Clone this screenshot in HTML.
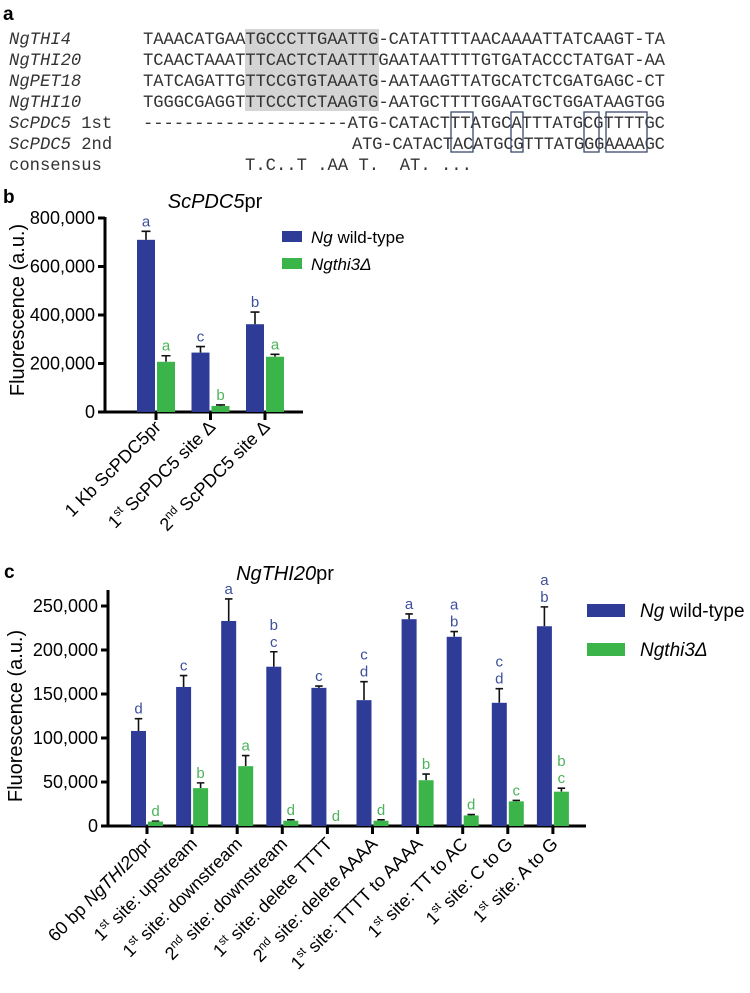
<!DOCTYPE html>
<html><head><meta charset="utf-8"><style>
html,body{margin:0;padding:0;background:#fff;}
svg{display:block;font-family:"Liberation Sans",sans-serif;}
.mono{font-family:"Liberation Mono",monospace;font-size:17.2px;fill:#333;white-space:pre;}
</style></head><body>
<svg id="fig" width="750" height="993" viewBox="0 0 750 993" xmlns="http://www.w3.org/2000/svg">
<!-- Panel a -->
<g>
<text x="3" y="20" font-size="19" font-weight="bold">a</text>
<rect x="245" y="29" width="134" height="82" fill="#d4d4d4"/>
<g>
<text class="mono" x="9" y="44" font-style="italic">NgTHI4</text>
<text class="mono" x="9" y="65" font-style="italic">NgTHI20</text>
<text class="mono" x="9" y="86" font-style="italic">NgPET18</text>
<text class="mono" x="9" y="107" font-style="italic">NgTHI10</text>
<text class="mono" x="9" y="128"><tspan font-style="italic">ScPDC5</tspan> 1st</text>
<text class="mono" x="9" y="149"><tspan font-style="italic">ScPDC5</tspan> 2nd</text>
<text class="mono" x="9" y="170">consensus</text>
</g>
<g>
<text class="mono" x="143" y="44" textLength="522">TAAACATGAATGCCCTTGAATTG-CATATTTTAACAAAATTATCAAGT-TA</text>
<text class="mono" x="143" y="65" textLength="522">TCAACTAAATTTCACTCTAATTTGAATAATTTTGTGATACCCTATGAT-AA</text>
<text class="mono" x="143" y="86" textLength="522">TATCAGATTGTTCCGTGTAAATG-AATAAGTTATGCATCTCGATGAGC-CT</text>
<text class="mono" x="143" y="107" textLength="522">TGGGCGAGGTTTCCCTCTAAGTG-AATGCTTTTGGAATGCTGGATAAGTGG</text>
<text class="mono" x="143" y="128" textLength="522">--------------------ATG-CATACTTTATGCATTTATGCGTTTTGC</text>
<text class="mono" x="352" y="149" textLength="313">ATG-CATACTACATGCGTTTATGGGAAAAGC</text>
<text class="mono" x="245" y="170">T.C..T .AA T.  AT. ...</text>
</g>
<g fill="none" stroke="#3b4a6b" stroke-width="1.3">
<rect x="451" y="112" width="22" height="40"/>
<rect x="511" y="112" width="12" height="40"/>
<rect x="584" y="112" width="15" height="40"/>
<rect x="606" y="112" width="41" height="40"/>
</g>
</g>
<!-- Panel b -->
<g id="panelB">
<text x="3" y="203" font-size="19" font-weight="bold">b</text>
<text x="215" y="208" font-size="20" text-anchor="middle"><tspan font-style="italic">ScPDC5</tspan>pr</text>
<text transform="translate(24,310) rotate(-90)" font-size="20" text-anchor="middle">Fluorescence (a.u.)</text>
<rect x="282" y="231" width="20" height="11" fill="#2e3b97"/>
<text x="311" y="243" font-size="17"><tspan font-style="italic">Ng</tspan> wild-type</text>
<rect x="282" y="258" width="20" height="11" fill="#3bb54a"/>
<text x="311" y="270" font-size="17" font-style="italic">Ngthi3Δ</text>
</g>
<!-- Panel c -->
<g id="panelC">
<text x="4" y="578" font-size="19" font-weight="bold">c</text>
<text x="285" y="580" font-size="20" text-anchor="middle"><tspan font-style="italic">NgTHI20</tspan>pr</text>
<text transform="translate(22,716) rotate(-90)" font-size="20" text-anchor="middle">Fluorescence (a.u.)</text>
<rect x="587" y="604" width="38" height="13" fill="#2e3b97"/>
<text x="640" y="617" font-size="19"><tspan font-style="italic">Ng</tspan> wild-type</text>
<rect x="587" y="643" width="38" height="13" fill="#3bb54a"/>
<text x="640" y="656" font-size="19" font-style="italic">Ngthi3Δ</text>
</g>
</svg>
<script>
// ---- Panel b data ----
const bCategories = [["1 Kb ","ScPDC5","pr",""],["1","st"," ScPDC5"," site Δ"],["2","nd"," ScPDC5"," site Δ"]];
const bWT = [710000, 245000, 362000];
const bWTErr = [35000, 25000, 50000];
const bMut = [207000, 25000, 228000];
const bMutErr = [25000, 4000, 10000];
const bWTLetters = ["a","c","b"];
const bMutLetters = ["a","b","a"];
const bTicks = [0, 200000, 400000, 600000, 800000];
const bTickLabels = ["0","200,000","400,000","600,000","800,000"];
// ---- Panel c data ----
const cCategories = [
 ["60 bp ","NgTHI20","pr"],["1st"," site: upstream"],["1st"," site: downstream"],["2nd"," site: downstream"],
 ["1st"," site: delete TTTT"],["2nd"," site: delete AAAA"],["1st"," site: TTTT to AAAA"],["1st"," site: TT to AC"],
 ["1st"," site: C to G"],["1st"," site: A to G"]];
const cWT = [108000, 158000, 233000, 181000, 157000, 143000, 235000, 215000, 140000, 227000];
const cWTErr = [14000, 13000, 25000, 17000, 2000, 21000, 6000, 6000, 16000, 22000];
const cMut = [5000, 43000, 68000, 6000, 0, 6000, 52000, 12000, 28000, 39000];
const cMutErr = [500, 6000, 12000, 1000, 0, 1000, 7000, 1000, 1000, 4000];
const cWTLetters = [["d"],["c"],["a"],["b","c"],["c"],["c","d"],["a"],["a","b"],["c","d"],["a","b"]];
const cMutLetters = [["d"],["b"],["a"],["d"],["d"],["d"],["b"],["d"],["c"],["b","c"]];
const cTicks = [0, 50000, 100000, 150000, 200000, 250000];
const cTickLabels = ["0","50,000","100,000","150,000","200,000","250,000"];

const NS = "http://www.w3.org/2000/svg";
const BLUE = "#2e3b97", GREEN = "#3bb54a", BLUET = "#3d4f9c", GREENT = "#4cb35a";
function mk(tag, attrs, parent) {
  const e = document.createElementNS(NS, tag);
  for (const k in attrs) e.setAttribute(k, attrs[k]);
  parent.appendChild(e);
  return e;
}
function drawChart(g, cfg) {
  const y = v => cfg.y0 - (v / cfg.ymax) * (cfg.y0 - cfg.ytop);
  const x = i => cfg.x0 + cfg.step * i;
  const ya = mk("line", {x1: cfg.ax, x2: cfg.ax, y1: cfg.y0 + 1, y2: cfg.axTop, stroke: "#000", "stroke-width": 3}, g);
  
  
  const xa = mk("line", {x1: cfg.ax - 1, x2: cfg.axEnd, y1: cfg.y0, y2: cfg.y0, stroke: "#000", "stroke-width": 3}, g);
  
  
  cfg.ticks.forEach((t, i) => {
    const tl = mk("line", {x1: cfg.ax - 7, x2: cfg.ax, y1: y(t), y2: y(t), stroke: "#000", "stroke-width": 3}, g);
    
    
    const tx = mk("text", {x: cfg.ax - 10, y: y(t) + 6, "font-size": cfg.fs, "text-anchor": "end"}, g);
    tx.textContent = cfg.tickLabels[i];
    
    
  });
  cfg.wt.forEach((v, i) => {
    const cx = x(i);
    const xt = mk("line", {x1: cx, x2: cx, y1: cfg.y0, y2: cfg.y0 + 8, stroke: "#000", "stroke-width": 3}, g);
    
    
    [[v, cfg.wtErr[i], cx - cfg.bw - 1, BLUE, BLUET, cfg.wtL[i], 'wt'],
     [cfg.mut[i], cfg.mutErr[i], cx + 1, GREEN, GREENT, cfg.mutL[i], 'mut']].forEach(s => {
      const [val, err, bx, col, tcol, lets, nm] = s;
      const mid = bx + cfg.bw / 2;
      if (err > 0) {
        const e1 = mk("path", {d: `M${mid} ${y(val)} V${y(val + err)} M${mid - cfg.bw*0.25} ${y(val + err)} H${mid + cfg.bw*0.25}`, stroke: "#111", "stroke-width": 1.6, fill: "none"}, g);
        
        
      }
      const r = mk("rect", {x: bx, y: y(val), width: cfg.bw, height: Math.max(0, cfg.y0 - y(val)), fill: col}, g);
      
      
      const top = y(val + err) - 5;
      const ls = Array.isArray(lets) ? lets : [lets];
      ls.forEach((L, k) => {
        const t = mk("text", {x: mid, y: top - (ls.length - 1 - k) * cfg.lh, "font-size": cfg.lfs, "text-anchor": "middle", fill: tcol}, g);
        t.textContent = L;
        
        
      });
    });
  });
}
function catLabel(g, cx, cy, parts, fs, italicIdx, supIdx, name) {
  const t = mk("text", {transform: `translate(${cx},${cy}) rotate(-45)`, "font-size": fs, "text-anchor": "end"}, g);
  parts.forEach((p, k) => {
    if (p === "") return;
    const sp = mk("tspan", {}, t);
    if (k === italicIdx) sp.setAttribute("font-style", "italic");
    if (supIdx !== null && p.length <= 3 && /^(1|2)(st|nd)$/.test(p)) {
      const a = mk("tspan", {}, t); a.textContent = p[0];
      sp.setAttribute("font-size", fs * 0.65); sp.setAttribute("dy", -fs * 0.4); sp.textContent = p.slice(1);
      t.appendChild(sp);
      const back = mk("tspan", {dy: fs * 0.4}, t); back.textContent = "\u200b";
      return;
    }
    sp.textContent = p;
  });
  
  
}
const gB = document.getElementById("panelB");
drawChart(gB, {p: "panel-b", y0: 412, ytop: 218, ymax: 800000, ax: 105, axTop: 217, axEnd: 303, x0: 156, step: 54.5, bw: 18,
  ticks: bTicks, tickLabels: bTickLabels, wt: bWT, wtErr: bWTErr, mut: bMut, mutErr: bMutErr, wtL: bWTLetters, mutL: bMutLetters,
  fs: 18, lfs: 15, lh: 17});
bCategories.forEach((c, i) => {
  const cx = 156 + 54.5 * i + 6, cy = 428;
  if (i === 0) catLabel(gB, cx, cy, [c[0], c[1], c[2]], 18, -1, null, 'panel-b-x-label');
  else catLabel(gB, cx, cy, [c[0] + c[1], c[2], c[3]], 18, -1, 1, 'panel-b-x-label');
});
const gC = document.getElementById("panelC");
drawChart(gC, {p: "panel-c", y0: 826, ytop: 606, ymax: 250000, ax: 108, axTop: 590, axEnd: 586, x0: 147, step: 45.1, bw: 15,
  ticks: cTicks, tickLabels: cTickLabels, wt: cWT, wtErr: cWTErr, mut: cMut, mutErr: cMutErr, wtL: cWTLetters, mutL: cMutLetters,
  fs: 18, lfs: 15, lh: 17});
cCategories.forEach((c, i) => {
  const cx = 147 + 45.1 * i + 6, cy = 845;
  if (i === 0) catLabel(gC, cx, cy, c, 18, 1, null, 'panel-c-x-label');
  else catLabel(gC, cx, cy, c, 18, -1, 0, 'panel-c-x-label');
});
</script>
</body></html>
